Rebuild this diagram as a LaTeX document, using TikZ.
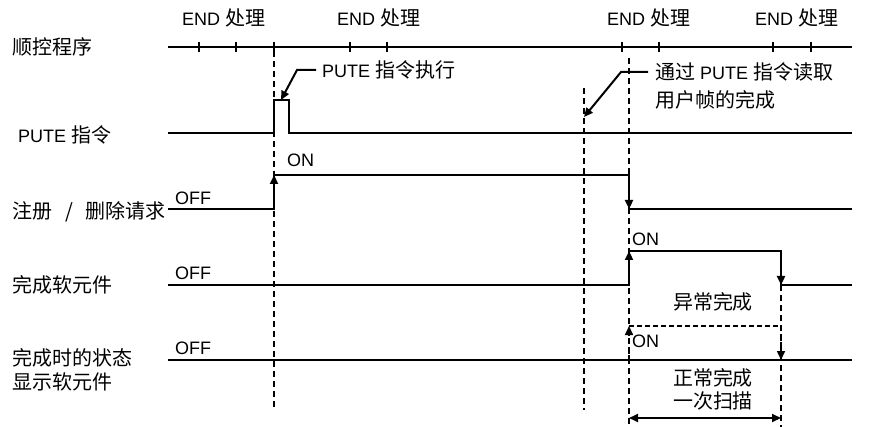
\documentclass[tikz,border=0pt]{standalone}
\usepackage{fontspec}
\setmainfont{Liberation Sans}
\newfontfamily\cj{Noto Sans CJK SC}[Scale=1.11]
\usetikzlibrary{arrows.meta}
\begin{document}
\begin{tikzpicture}[x=1pt,y=-1pt,
  sig/.style={line width=2.2pt,line join=miter},
  vdash/.style={line width=1.6pt,dash pattern=on 6pt off 4pt},
  dsig/.style={line width=1.6pt,dash pattern=on 5pt off 3pt},
  tip/.style={-{Triangle[length=9pt,width=8pt]}},
  dtip/.style={{Triangle[length=9pt,width=8pt]}-{Triangle[length=9pt,width=8pt]}},
  lbl/.style={anchor=west,inner sep=0pt,font=\fontsize{18}{21}\selectfont},
  clbl/.style={anchor=center,inner sep=0pt,font=\fontsize{18}{21}\selectfont}]
\useasboundingbox (0,0) rectangle (877,427);

% labels top
\node[lbl] (e1) at (182,18) {END {\cj 处理}};
\node[lbl] (e2) at (337,18) {END {\cj 处理}};
\node[lbl] (e3) at (607,18) {END {\cj 处理}};
\node[lbl] (e4) at (755,18) {END {\cj 处理}};

% left labels
\node[lbl] (l1) at (12,47) {\cj 顺控程序};
\node[lbl] (l2) at (18,135) {PUTE {\cj 指令}};
\node[lbl] (l3) at (12,212) {\cj 注册\hspace{13pt}/\hspace{13pt}删除请求};
\node[lbl] (l4) at (12,285) {\cj 完成软元件};
\node[lbl] (l5) at (12,358) {\cj 完成时的状态};
\node[lbl] (l6) at (12,382) {\cj 显示软元件};

% scan line
\draw[line width=2.2pt] (168,47) -- (852,47);
\foreach \x in {199,236,274,350,387,622,659,773,811}
  \draw[line width=1.6pt] (\x,42) -- (\x,52);

% dashed verticals
\draw[vdash] (274,51) -- (274,408);
\draw[vdash] (629,58) -- (629,427);
\draw[vdash] (584,88) -- (584,410);
\draw[vdash] (781,285) -- (781,427);

% PUTE pulse
\draw[sig] (168,133) -- (274,133) -- (274,100) -- (289,100) -- (289,133) -- (852,133);
\node[lbl] (p1) at (322,70) {PUTE {\cj 指令执行}};
\coordinate (pa) at (316,70);
\coordinate (pb) at (297,70);
\coordinate (pc) at (281,100);
\draw[line width=2pt,tip] (pa) -- (pb) -- (pc);

% right annotation
\node[lbl] (r1) at (655,72) {{\cj 通过} PUTE {\cj 指令读取}};
\node[lbl] (r2) at (655,100) {\cj 用户帧的完成};
\coordinate (ra) at (648,72);
\coordinate (rb) at (621,72);
\coordinate (rc) at (584,117);
\draw[line width=2pt,tip] (ra) -- (rb) -- (rc);

% register/delete request
\draw[sig] (168,209) -- (274,209) -- (274,175) -- (629,175) -- (629,209) -- (852,209);
\draw[line width=2.2pt,tip] (274,195) -- (274,175);
\draw[line width=2.2pt,tip] (629,190) -- (629,209);
\node[lbl] (off1) at (175,198) {OFF};
\node[lbl] (on1) at (287,160) {ON};

% completion device
\draw[sig] (168,285) -- (629,285) -- (629,251) -- (781,251) -- (781,285) -- (852,285);
\draw[line width=2.2pt,tip] (629,272) -- (629,251);
\draw[line width=2.2pt,tip] (781,266) -- (781,285);
\node[lbl] (off2) at (175,273) {OFF};
\node[lbl] (on2) at (632,239) {ON};

% status device
\draw[sig] (168,360) -- (852,360);
\draw[dsig] (629,326) -- (781,326);
\draw[dsig,tip] (629,360) -- (629,326);
\draw[dsig,tip] (781,326) -- (781,360);
\node[lbl] (off3) at (175,348) {OFF};
\node[lbl] (on3) at (632,341) {ON};
\node[clbl] (t1) at (713,302) {\cj 异常完成};
\node[clbl] (t2) at (713,378) {\cj 正常完成};
\node[clbl] (t3) at (713,401) {\cj 一次扫描};
\draw[line width=2pt,dtip] (629,418) -- (781,418);
\end{tikzpicture}
\end{document}
